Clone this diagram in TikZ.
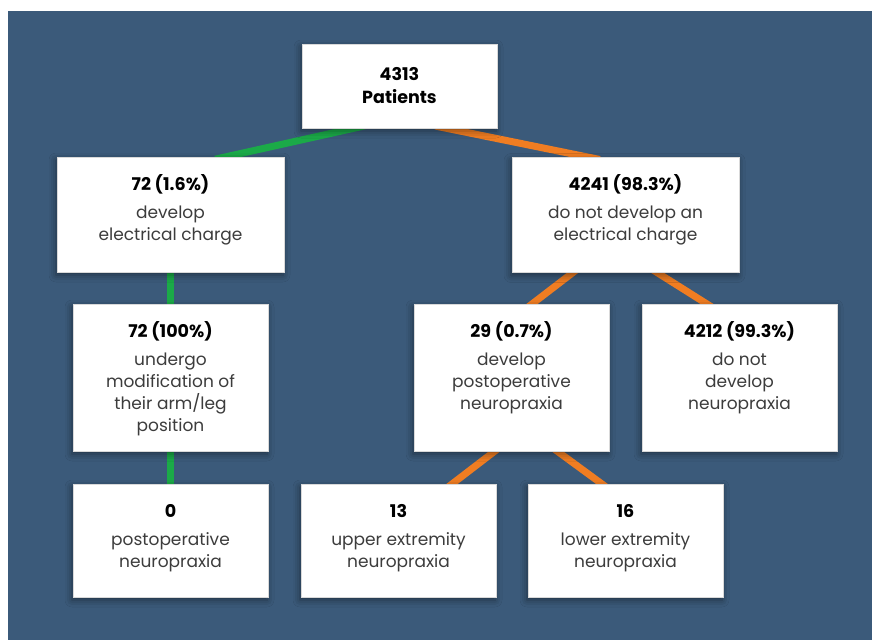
\documentclass[tikz,border=0pt]{standalone}
\usepackage{fontspec}
\setmainfont{Poppins}
\usetikzlibrary{positioning,backgrounds,shadows.blur}
\definecolor{bgblue}{RGB}{59,90,122}
\definecolor{chargegreen}{RGB}{27,170,72}
\definecolor{nochargeorange}{RGB}{240,125,34}
\definecolor{bodygray}{RGB}{60,60,60}
\newcommand{\boxtext}[4]{\parbox[t][#2][t]{#1}{\centering\fontsize{17}{22}\selectfont
  \rule{0pt}{33pt}{\fontsize{17.5}{22}\selectfont\textbf{#3}}\\[6pt]\color{bodygray}#4}}

\begin{document}
\begin{tikzpicture}[x=1pt,y=-1pt,inner sep=0pt,outer sep=0pt]
\tikzstyle{box}=[rectangle, fill=white, draw=black!15, line width=0.6pt,
  blur shadow={shadow xshift=-1pt, shadow yshift=-3pt, shadow blur radius=7pt, shadow opacity=45}]
\tikzstyle{link}=[line width=7pt, shorten <=-10pt, shorten >=-10pt]
\tikzstyle{yes}=[link, draw=chargegreen]
\tikzstyle{no}=[link, draw=nochargeorange]
\useasboundingbox (0,0) rectangle (872,640);
\node[box] (root) at (399.5,86) {\parbox[t][84pt][t]{195pt}{\centering\fontsize{17.5}{23}\selectfont\bfseries
  \rule{0pt}{36pt}4313\\Patients}};
\node[box] (chargeL) at (170.5,214.5) {\boxtext{227pt}{115pt}{72 (1.6\%)}{develop\\electrical charge}};
\node[box] (chargeR) at (625.5,215) {\boxtext{227pt}{115pt}{4241 (98.3\%)}{do not develop an\\electrical charge}};
\node[box] (modify) [below=32pt of chargeL] {\boxtext{195pt}{147pt}{72 (100\%)}{undergo\\modification of\\their arm/leg\\position}};
\node[box] (neuro) at (511.5,377.5) {\boxtext{195pt}{147pt}{29 (0.7\%)}{develop\\postoperative\\neuropraxia}};
\node[box] (noneuro) [right=33pt of neuro] {\boxtext{195pt}{147pt}{4212 (99.3\%)}{do not\\develop\\neuropraxia}};
\node[box] (zero) [below=33pt of modify] {\boxtext{195pt}{113pt}{0}{postoperative\\neuropraxia}};
\node[box] (upper) at (398.5,540.5) {\boxtext{195pt}{113pt}{13}{upper extremity\\neuropraxia}};
\node[box] (lower) [right=32pt of upper] {\boxtext{195pt}{113pt}{16}{lower extremity\\neuropraxia}};
\begin{scope}[on background layer]
\fill[bgblue] (8,11) rectangle (872,640);
% charge branch
\draw[yes] ([xshift=-44.5pt]root.south) -- ([xshift=54.5pt]chargeL.north);
\draw[yes] (chargeL.south) -- (modify.north);
\draw[yes] (modify.south) -- (zero.north);
% no charge branch
\draw[no] ([xshift=45.5pt]root.south) -- ([xshift=-35.5pt]chargeR.north);
\draw[no] ([xshift=-52.5pt]chargeR.south) -- ([xshift=20.5pt]neuro.north);
\draw[no] ([xshift=31.5pt]chargeR.south) -- ([xshift=-32.5pt]noneuro.north);
\draw[no] ([xshift=-16.5pt]neuro.south) -- ([xshift=53.5pt]upper.north);
\draw[no] ([xshift=45.5pt]neuro.south) -- ([xshift=-23.5pt]lower.north);
\end{scope}
\end{tikzpicture}
\end{document}
